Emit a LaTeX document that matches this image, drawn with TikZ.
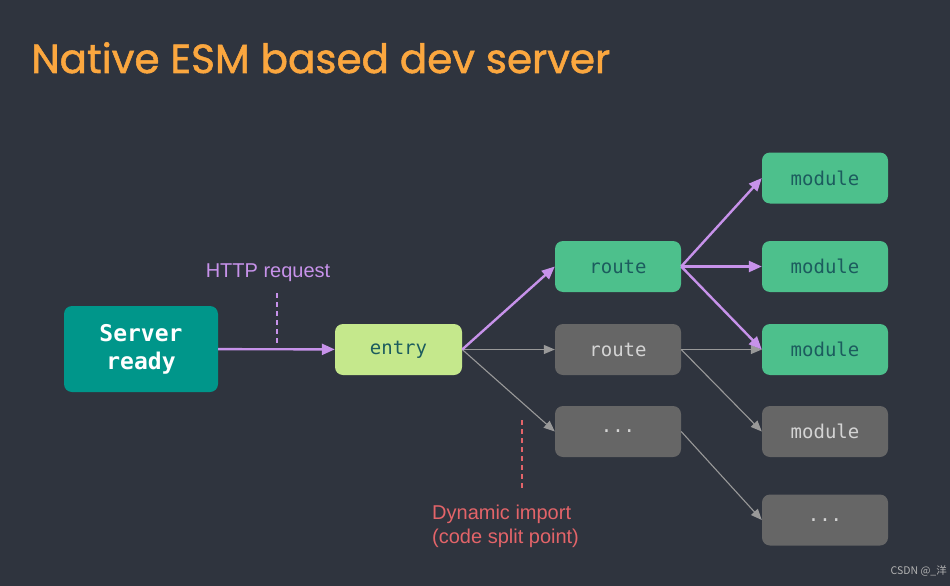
\documentclass[tikz,border=0pt]{standalone}
\usepackage{fontspec}
\setmainfont{Liberation Sans}
\setmonofont{DejaVu Sans Mono}
\newfontfamily\titlefont{Poppins}[FakeBold=1.3]
\newfontfamily\cjkfont{Noto Sans CJK SC}
\usetikzlibrary{arrows.meta,positioning}

\definecolor{bg}{HTML}{2F343E}
\definecolor{esmorange}{HTML}{FBA73F}
\definecolor{readyteal}{HTML}{00968A}
\definecolor{entrygreen}{HTML}{C5E88C}
\definecolor{modgreen}{HTML}{4DC08C}
\definecolor{idlegray}{HTML}{666666}
\definecolor{idletext}{HTML}{D4D4D4}
\definecolor{reqpurple}{HTML}{C792EA}
\definecolor{splitred}{HTML}{E36469}
\definecolor{darkteal}{HTML}{1C5C5E}

\begin{document}
\begin{tikzpicture}[x=1pt,y=-1pt,>={Triangle[length=13pt,width=11pt]},
    box/.style={rounded corners=8pt,minimum width=126pt,minimum height=51pt,inner sep=0pt,font=\ttfamily\fontsize{19}{19}\selectfont},
    hot/.style={box,fill=modgreen,text=darkteal},
    cold/.style={box,fill=idlegray,text=idletext},
    hotedge/.style={->,reqpurple,line width=2.4pt},
    coldedge/.style={->,gray!80,line width=1.1pt,>={Triangle[length=11pt,width=9pt]}},
    note/.style={font=\fontsize{20}{24}\selectfont}]

    \fill[bg] (0,0) rectangle (950,586);
    \useasboundingbox (0,0) rectangle (950,586);

    \node[anchor=base west,inner sep=0pt,text=esmorange,font=\titlefont\fontsize{40.5}{40}\selectfont] (title) at (31,73) {Native ESM based dev server};

    \node[box,fill=readyteal,text=white,minimum width=154pt,minimum height=86pt,align=center,
        font=\ttfamily\bfseries\fontsize{23}{28}\selectfont] (ready) at (141,349) {Server\\ready};
    \node[box,fill=entrygreen,text=darkteal,minimum width=127pt] (entry) at (398.5,349.5) {entry};

    \node[hot] (route1) at (618,266.5) {route};
    \node[cold] (route2) at (618,349.5) {route};
    \node[cold] (lazy1) at (618,431.5) {...};

    \foreach \i/\y in {1/178,2/266.5,3/349.5}{
        \node[hot] (mod\i) at (825,\y) {module};
    }
    \node[cold] (mod4) at (825,431.5) {module};
    \node[cold] (lazy2) at (825,520) {...};

    % grey edges first, purple on top
    \draw[coldedge] (entry.east) -- (route2.west);
    \draw[coldedge] (entry.east) -- (lazy1.west);
    \draw[coldedge] (route2.east) -- (mod3.west);
    \draw[coldedge] (route2.east) -- (mod4.west);
    \draw[coldedge] (lazy1.east) -- (lazy2.west);

    \draw[hotedge] (ready) -- (entry);
    \draw[hotedge] (entry.east) -- (route1.west);
    \foreach \i in {1,2,3}{
        \draw[hotedge] (route1.east) -- (mod\i.west);
    }

    % labels
    \node[note,text=reqpurple] (req) at (268,273) {HTTP request};
    \coordinate (reqtop) at (277,293);
    \coordinate (reqbot) at (277,345);
    \draw[reqpurple,line width=1.3pt,dash pattern=on 5pt off 4pt] (reqtop) -- (reqbot);

    \coordinate (splittop) at (522,420);
    \coordinate (splitbot) at (522,490);
    \draw[splitred,line width=1.3pt,dash pattern=on 5pt off 4pt] (splittop) -- (splitbot);
    \node[note,text=splitred,anchor=north west,align=left,inner sep=0pt] (split) at (432,505) {Dynamic import\\(code split point)};

    \node[anchor=base east,inner sep=0pt,text=gray!60!white,font=\cjkfont\fontsize{10.5}{10}\selectfont] (mark) at (947,574) {CSDN @\_洋};

\end{tikzpicture}
\end{document}
